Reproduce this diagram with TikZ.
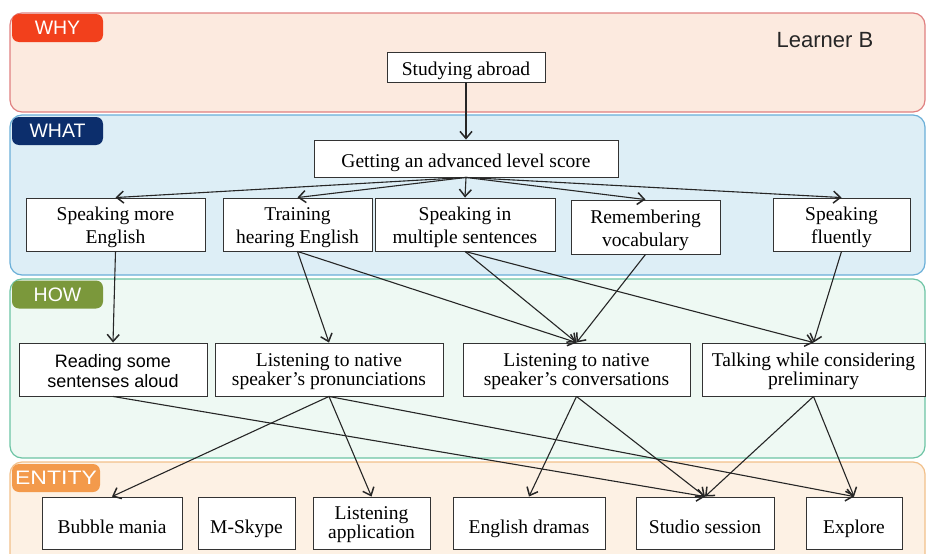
\documentclass[tikz,border=0pt]{standalone}
\usepackage{fontspec}
\setmainfont{Liberation Serif}
\setsansfont{Liberation Sans}
\usetikzlibrary{arrows.meta}
\definecolor{whyfill}{HTML}{FCEADF}
\definecolor{whyline}{HTML}{E08080}
\definecolor{whatfill}{HTML}{DDEEF6}
\definecolor{whatline}{HTML}{6AAFD8}
\definecolor{howfill}{HTML}{EEF9F3}
\definecolor{howline}{HTML}{6CC4A4}
\definecolor{entfill}{HTML}{FDF1E4}
\definecolor{entline}{HTML}{F2C08A}
\definecolor{whytag}{HTML}{F2401C}
\definecolor{whattag}{HTML}{0C2E6C}
\definecolor{howtag}{HTML}{7B983B}
\definecolor{enttag}{HTML}{F39A4B}
\newcommand{\fstrut}[1]{\rule{0pt}{#1pt}}
\begin{document}
\begin{tikzpicture}[x=1pt,y=-1pt,
  band/.style={rounded corners=12pt, line width=1.2pt},
  tag/.style={rounded corners=7pt, font=\sffamily\fontsize{19.5}{22}\selectfont, text=white, inner sep=0pt, minimum width=91pt, minimum height=28pt},
  box/.style={draw=black!80, fill=white, line width=0.9pt, font=\fontsize{19.5}{23}\selectfont, align=center, inner sep=0pt,
    execute at begin node={\rule{0pt}{22pt}}, execute at end node={\rule[-5pt]{0pt}{5pt}}},
  entbox/.style={box, font=\fontsize{19.5}{19}\selectfont,
    execute at begin node={\rule{0pt}{25pt}}},
  howbox/.style={box, font=\fontsize{19.5}{19}\selectfont},
  arr/.style={-{Straight Barb[length=7pt,width=12pt,line width=1.5pt]}, line width=1.1pt, draw=black!85}]
\useasboundingbox (0,0) rectangle (927,554);
\clip (0,0) rectangle (927,554);
% bands
\draw[band, draw=whyline, fill=whyfill] (10,13) rectangle (925,112);
\draw[band, draw=whatline, fill=whatfill] (10,115) rectangle (925,275);
\draw[band, draw=howline, fill=howfill] (10,279) rectangle (925,458);
\draw[band, draw=entline, fill=entfill] (10,462) rectangle (925,566);
% tags
\node[tag, fill=whytag] (twhy) at (57.5,28) {WHY};
\node[tag, fill=whattag] (twhat) at (57.5,131) {WHAT};
\node[tag, fill=howtag] (thow) at (57.5,294.5) {HOW};
\node[tag, fill=enttag, minimum width=88pt] (tent) at (56,478) {\scalebox{1.18}[1]{ENTITY}};
\node[font=\sffamily\fontsize{22}{24}\selectfont, text=black!85] (lb) at (825,40) {Learner B};
% WHY / WHAT nodes
\node[box, minimum width=158pt, minimum height=30pt] (sa) at (466,67) {Studying abroad};
\node[box, minimum width=304pt, minimum height=37pt] (gs) at (466,158.5) {Getting an advanced level score};
\node[box, minimum width=179pt, minimum height=53pt] (sme) at (115.5,224.5) {\fstrut{20}Speaking more\\English};
\node[box, minimum width=149pt, minimum height=53pt] (the) at (297.5,224.5) {\fstrut{20}Training\\hearing English};
\node[box, minimum width=180pt, minimum height=53pt] (smu) at (465,224.5) {\fstrut{20}Speaking in\\multiple sentences};
\node[box, minimum width=149pt, minimum height=54pt] (rv) at (645.5,227) {\fstrut{20}Remembering\\vocabulary};
\node[box, minimum width=137pt, minimum height=53pt] (sf) at (841.5,224.5) {\fstrut{20}Speaking\\fluently};
% HOW nodes
\node[box, font=\sffamily\fontsize{18}{20}\selectfont, minimum width=188pt, minimum height=53pt] (rsa) at (113,369.5) {\fstrut{20}Reading some\\sentenses aloud};
\node[howbox, minimum width=228pt, minimum height=53pt] (lpr) at (329,369.5) {\fstrut{18}Listening to native\\speaker’s pronunciations};
\node[howbox, minimum width=227pt, minimum height=53pt] (lco) at (576.5,369.5) {\fstrut{18}Listening to native\\speaker’s conversations};
\node[howbox, minimum width=223pt, minimum height=53pt] (tal) at (813.5,369.5) {\fstrut{18}Talking while considering\\preliminary};
% ENTITY nodes
\node[entbox, minimum width=140pt, minimum height=52pt] (bm) at (112,523) {Bubble mania};
\node[entbox, minimum width=97pt, minimum height=52pt] (ms) at (246.5,523) {M-Skype};
\node[entbox, minimum width=117pt, minimum height=52pt] (la) at (371.5,523) {\fstrut{16}Listening\\application};
\node[entbox, minimum width=152pt, minimum height=52pt] (ed) at (529,523) {English dramas};
\node[entbox, minimum width=138pt, minimum height=52pt] (ss) at (705,523) {Studio session};
\node[entbox, minimum width=96pt, minimum height=52pt] (ex) at (854,523) {Explore};
% edges
\draw[arr] (sa.south) -- (gs.north);
\draw[arr] (gs.south) -- (sme.north);
\draw[arr] (gs.south) -- (the.north);
\draw[arr] (gs.south) -- (smu.north);
\draw[arr] (gs.south) -- (rv.north);
\draw[arr] (gs.south) -- (sf.north);
\draw[arr] (sme.south) -- (rsa.north);
\draw[arr] (the.south) -- (lpr.north);
\draw[arr] (the.south) -- (lco.north);
\draw[arr] (smu.south) -- (lco.north);
\draw[arr] (smu.south) -- (tal.north);
\draw[arr] (rv.south) -- (lco.north);
\draw[arr] (sf.south) -- (tal.north);
\draw[arr] (rsa.south) -- (ss.north);
\draw[arr] (lpr.south) -- (bm.north);
\draw[arr] (lpr.south) -- (la.north);
\draw[arr] (lpr.south) -- (ex.north);
\draw[arr] (lco.south) -- (ed.north);
\draw[arr] (lco.south) -- (ss.north);
\draw[arr] (tal.south) -- (ss.north);
\draw[arr] (tal.south) -- (ex.north);
\end{tikzpicture}
\end{document}
